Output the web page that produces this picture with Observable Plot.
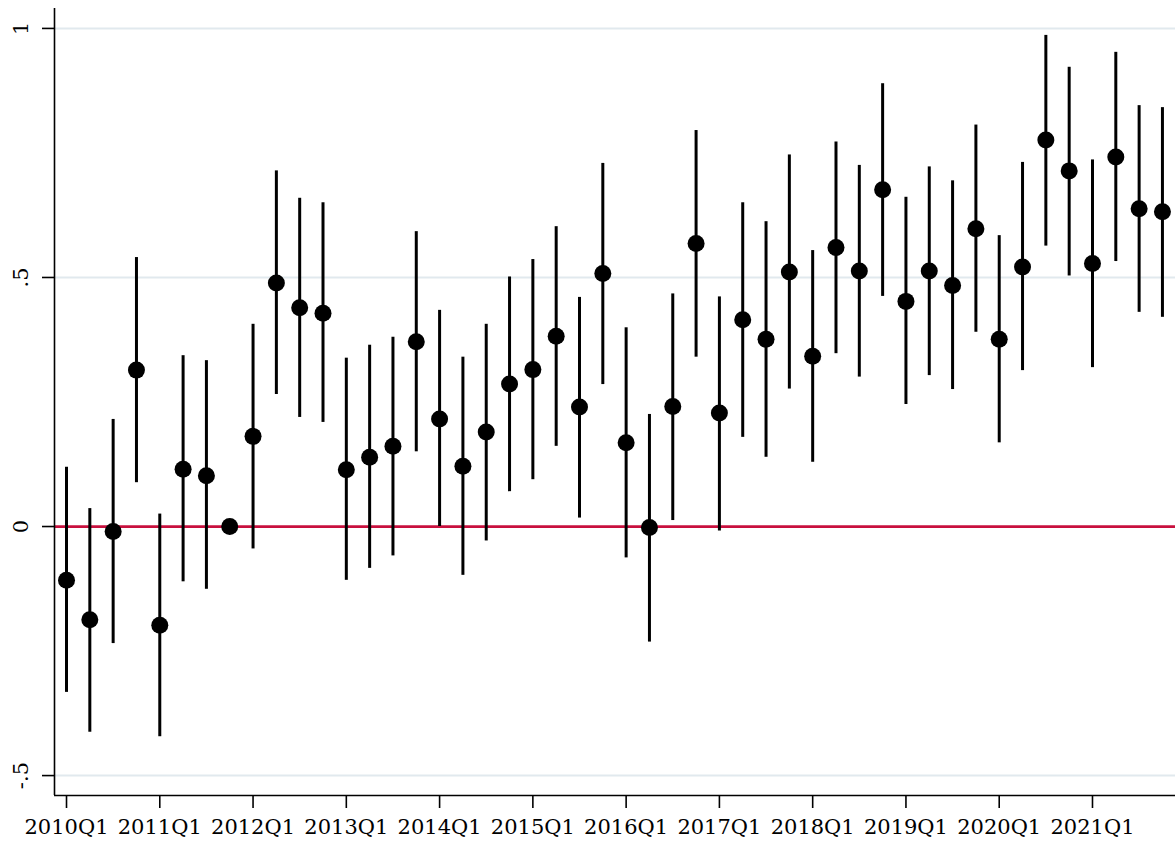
<!DOCTYPE html>
<html>
<head>
<meta charset="utf-8">
<script src="https://cdn.jsdelivr.net/npm/d3@7"></script>
<script src="https://cdn.jsdelivr.net/npm/@observablehq/plot@0.6"></script>
<style>
  html, body { margin: 0; padding: 0; background: #fff; }
</style>
</head>
<body>
<div id="chart"></div>
<script>
const quarters = [
  "2010Q1","2010Q2","2010Q3","2010Q4",
  "2011Q1","2011Q2","2011Q3","2011Q4",
  "2012Q1","2012Q2","2012Q3","2012Q4",
  "2013Q1","2013Q2","2013Q3","2013Q4",
  "2014Q1","2014Q2","2014Q3","2014Q4",
  "2015Q1","2015Q2","2015Q3","2015Q4",
  "2016Q1","2016Q2","2016Q3","2016Q4",
  "2017Q1","2017Q2","2017Q3","2017Q4",
  "2018Q1","2018Q2","2018Q3","2018Q4",
  "2019Q1","2019Q2","2019Q3","2019Q4",
  "2020Q1","2020Q2","2020Q3","2020Q4",
  "2021Q1","2021Q2","2021Q3","2021Q4"
];
const estimate = [
  -0.108, -0.187, -0.010, 0.314,
  -0.198, 0.115, 0.102, 0.000,
  0.181, 0.489, 0.439, 0.428,
  0.114, 0.139, 0.161, 0.371,
  0.216, 0.121, 0.190, 0.286,
  0.315, 0.382, 0.240, 0.508,
  0.168, -0.002, 0.241, 0.568,
  0.228, 0.415, 0.376, 0.511,
  0.342, 0.560, 0.513, 0.676,
  0.452, 0.513, 0.484, 0.598,
  0.376, 0.521, 0.776, 0.714,
  0.528, 0.742, 0.638, 0.632
];
const lower = [
  -0.333, -0.413, -0.235, 0.088,
  -0.422, -0.111, -0.126, null,
  -0.045, 0.265, 0.219, 0.209,
  -0.108, -0.084, -0.059, 0.150,
  0.000, -0.098, -0.029, 0.070,
  0.094, 0.161, 0.017, 0.285,
  -0.063, -0.232, 0.012, 0.340,
  -0.009, 0.179, 0.139, 0.276,
  0.129, 0.347, 0.300, 0.462,
  0.245, 0.303, 0.275, 0.390,
  0.168, 0.313, 0.563, 0.503,
  0.319, 0.532, 0.430, 0.420
];
const upper = [
  0.119, 0.036, 0.215, 0.540,
  0.025, 0.343, 0.333, null,
  0.406, 0.714, 0.659, 0.650,
  0.338, 0.364, 0.380, 0.592,
  0.434, 0.340, 0.406, 0.501,
  0.536, 0.602, 0.460, 0.729,
  0.399, 0.225, 0.467, 0.795,
  0.461, 0.650, 0.612, 0.746,
  0.554, 0.772, 0.725, 0.889,
  0.661, 0.722, 0.694, 0.806,
  0.584, 0.731, 0.986, 0.922,
  0.736, 0.952, 0.845, 0.841
];
const xTickLabels = ["2010Q1","2011Q1","2012Q1","2013Q1","2014Q1","2015Q1",
                     "2016Q1","2017Q1","2018Q1","2019Q1","2020Q1","2021Q1"];
const yTicks = [-0.5, 0, 0.5, 1];
const yTickLabels = ["-.5", "0", ".5", "1"];
const gridValues = [-0.5, 0.5, 1];

const xDomain = [-0.515, 47.56];
const yDomain = [-0.54, 1.04];

const data = quarters.map((q, i) => ({i, q, est: estimate[i], lo: lower[i], hi: upper[i]}));
const ciData = data.filter(d => d.lo != null && d.hi != null);
const xTickIdx = xTickLabels.map(l => quarters.indexOf(l));

const chart = Plot.plot({
  width: 1175,
  height: 850,
  marginLeft: 54,
  marginRight: 0,
  marginTop: 8,
  marginBottom: 55,
  style: {fontFamily: "'DejaVu Serif', serif", fontSize: "21px", color: "#000", background: "#fff", overflow: "visible"},
  x: {domain: xDomain, label: null},
  y: {domain: yDomain, label: null},
  marks: [
    Plot.ruleY(gridValues, {stroke: "#e1e9ee", strokeWidth: 2}),
    Plot.ruleY([0], {stroke: "#c8103e", strokeWidth: 2.7}),
    Plot.ruleX(ciData, {x: "i", y1: "lo", y2: "hi", stroke: "#000", strokeWidth: 3}),
    Plot.dot(data, {x: "i", y: "est", r: 8.5, fill: "#000", stroke: null}),
    Plot.ruleX([xDomain[0]], {stroke: "#000", strokeWidth: 1.6}),
    Plot.ruleY([yDomain[0]], {stroke: "#000", strokeWidth: 1.6}),
    Plot.axisX({ticks: xTickIdx, tickFormat: i => quarters[i], tickSize: 13, tickPadding: 11, strokeWidth: 1.6, fontSize: 21, label: null}),
    Plot.axisY({ticks: yTicks, tickFormat: v => yTickLabels[yTicks.indexOf(v)], tickSize: 12, tickPadding: 15, tickRotate: -90, strokeWidth: 1.6, fontSize: 21, label: null})
  ]
});
document.getElementById("chart").appendChild(chart);
</script>
</body>
</html>
